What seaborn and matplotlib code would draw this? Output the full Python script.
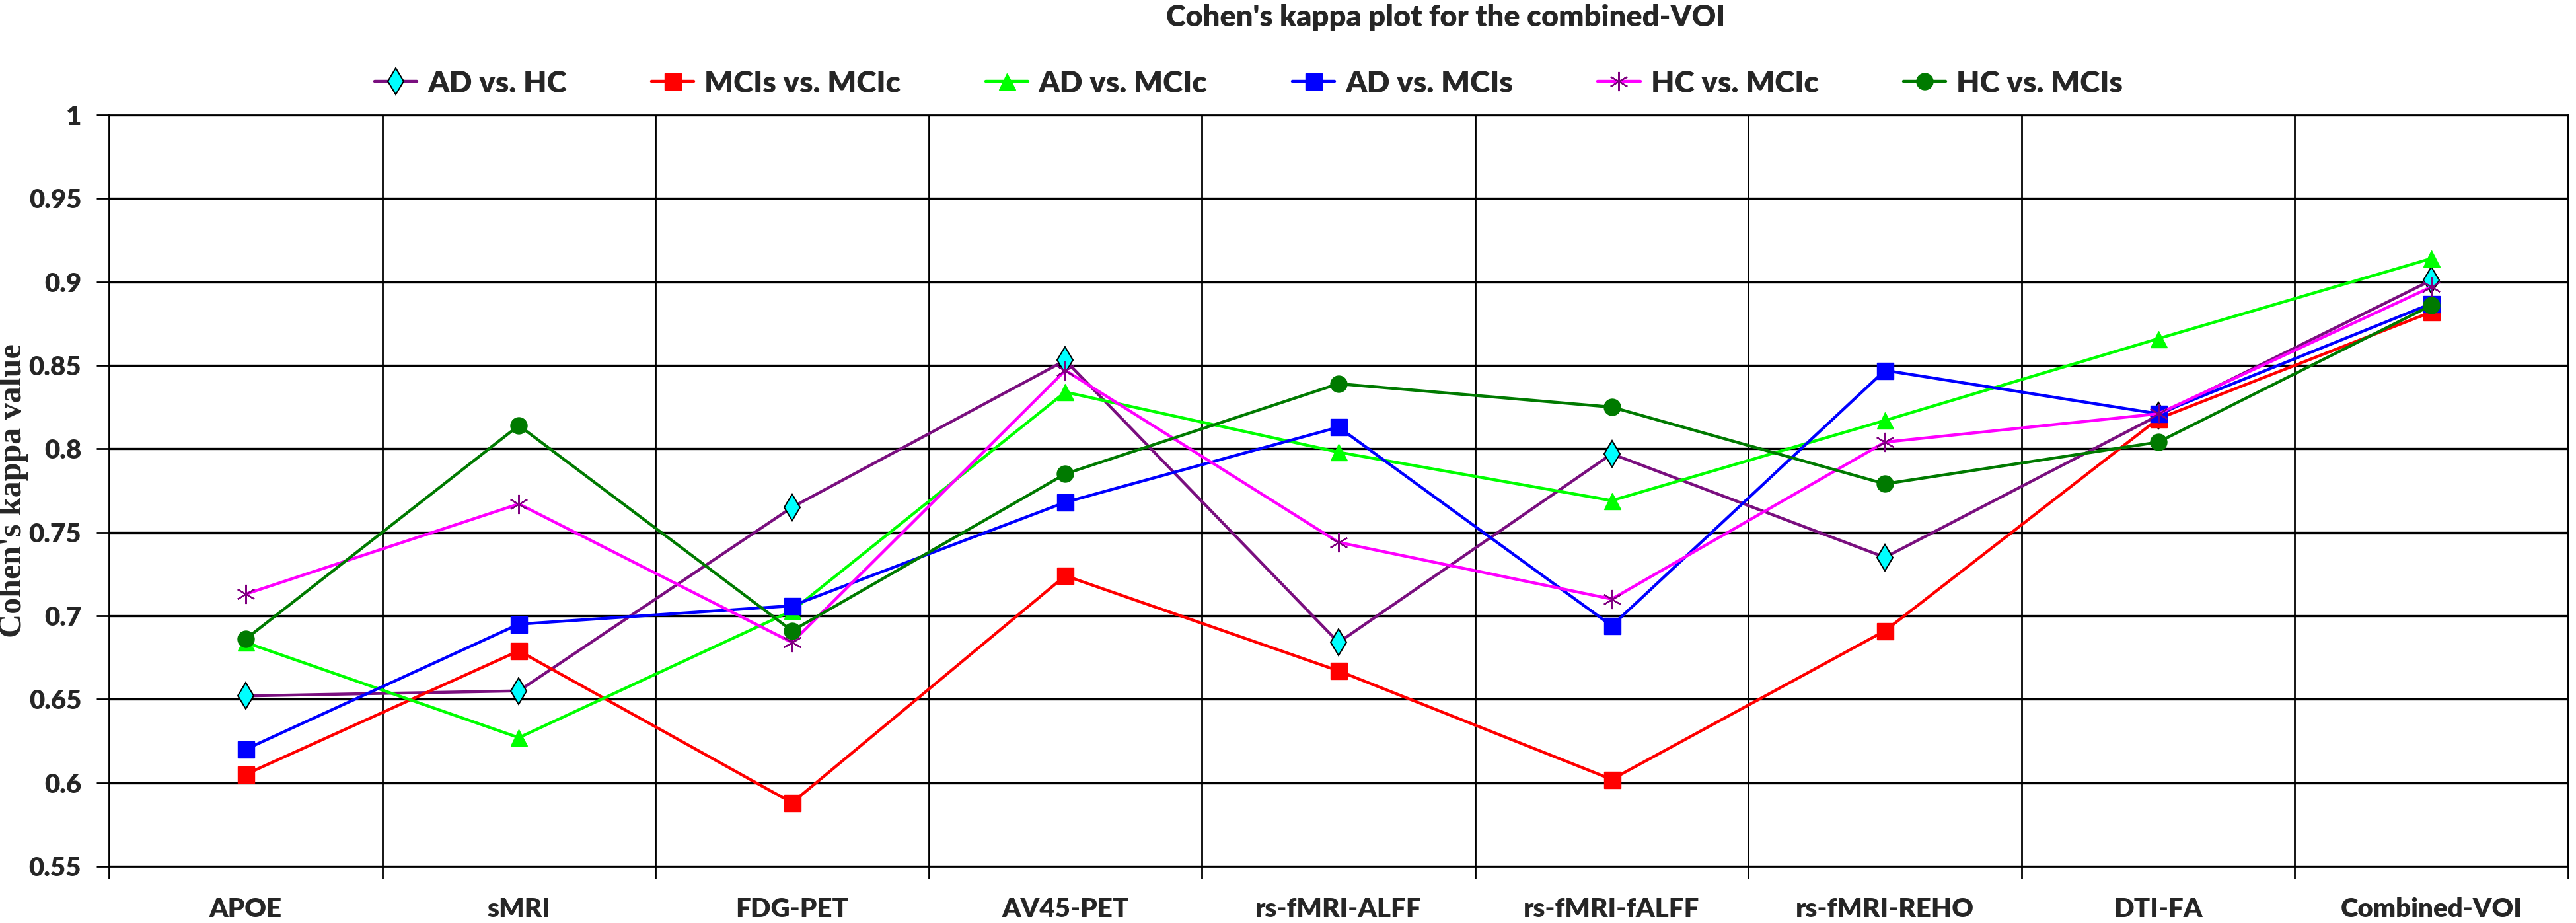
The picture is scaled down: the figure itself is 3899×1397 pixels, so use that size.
import matplotlib
matplotlib.use("Agg")
import matplotlib.pyplot as plt
from matplotlib.ticker import FixedLocator
import seaborn as sns
import numpy as np

# ---------------- data ----------------
categories = ["APOE", "sMRI", "FDG-PET", "AV45-PET", "rs-fMRI-ALFF",
              "rs-fMRI-fALFF", "rs-fMRI-REHO", "DTI-FA", "Combined-VOI"]

ad_vs_hc      = [0.652, 0.655, 0.765, 0.853, 0.684, 0.797, 0.735, 0.820, 0.901]
mcis_vs_mcic  = [0.605, 0.679, 0.588, 0.724, 0.667, 0.602, 0.691, 0.818, 0.882]
ad_vs_mcic    = [0.684, 0.627, 0.703, 0.834, 0.798, 0.769, 0.817, 0.866, 0.914]
ad_vs_mcis    = [0.620, 0.695, 0.706, 0.768, 0.813, 0.694, 0.847, 0.821, 0.887]
hc_vs_mcic    = [0.713, 0.767, 0.684, 0.847, 0.744, 0.710, 0.804, 0.821, 0.897]
hc_vs_mcis    = [0.686, 0.814, 0.691, 0.785, 0.839, 0.825, 0.779, 0.804, 0.886]

series_names = ["AD vs. HC", "MCIs vs. MCIc", "AD vs. MCIc",
                "AD vs. MCIs", "HC vs. MCIc", "HC vs. MCIs"]
series_values = [ad_vs_hc, mcis_vs_mcic, ad_vs_mcic, ad_vs_mcis, hc_vs_mcic, hc_vs_mcis]

y_ticks = [0.55, 0.6, 0.65, 0.7, 0.75, 0.8, 0.85, 0.9, 0.95, 1]
y_tick_labels = ["0.55", "0.6", "0.65", "0.7", "0.75", "0.8", "0.85", "0.9", "0.95", "1"]

title_text = "Cohen's kappa plot for the combined-VOI"
ylabel_text = "Cohen's kappa value"

# ---------------- styles ----------------
styles = [
    dict(color="#7A0F7F", marker="d", mfc="#00FFFF", mec="black", mew=1.5, ms=20),
    dict(color="#FF0000", marker="s", mfc="#FF0000", mec="#FF0000", mew=1.0, ms=18),
    dict(color="#00FF00", marker="^", mfc="#00FF00", mec="#00FF00", mew=1.0, ms=18),
    dict(color="#0000FF", marker="s", mfc="#0000FF", mec="#0000FF", mew=1.0, ms=18),
    dict(color="#FF00FF", marker=(6, 2, 0), mfc="#800080", mec="#800080", mew=1.6, ms=21),
    dict(color="#007A00", marker="o", mfc="#007A00", mec="#007A00", mew=1.0, ms=18),
]

WEIGHT = "heavy"

sns.set_theme(style="white")
plt.rcParams["font.family"] = ["Lato", "DejaVu Sans"]

W, H = 3899, 1397
fig = plt.figure(figsize=(W / 100, H / 100), dpi=100)
ax = fig.add_axes([165 / W, 1 - 1311 / H, (3887 - 165) / W, (1311 - 174) / H])

x_idx = list(range(len(categories)))
for name, vals, st in zip(series_names, series_values, styles):
    sns.lineplot(x=x_idx, y=vals, ax=ax, color=st["color"], linewidth=3.2,
                 marker=st["marker"], markersize=st["ms"],
                 markerfacecolor=st["mfc"], markeredgecolor=st["mec"],
                 markeredgewidth=st["mew"], label=name, zorder=3)

ax.set_xlim(-0.5, len(categories) - 0.5)
ax.set_ylim(0.55, 1.0)

# x: labels at centres, separators at boundaries
ax.set_xticks(x_idx)
ax.set_xticklabels(categories, fontsize=29, fontweight=WEIGHT)
ax.xaxis.set_minor_locator(FixedLocator(np.arange(-0.5, len(categories), 1.0)))
ax.tick_params(axis="x", which="major", length=0, pad=34)
ax.tick_params(axis="x", which="minor", length=14, width=2, color="black", bottom=True)
ax.grid(True, axis="x", which="minor", color="black", linewidth=2.0, zorder=1)
ax.grid(False, axis="x", which="major")

ax.set_yticks(y_ticks)
ax.set_yticklabels(y_tick_labels, fontsize=29, fontweight=WEIGHT)
ax.tick_params(axis="y", which="major", length=14, width=2, color="black", left=True, pad=16)
ax.grid(True, axis="y", which="major", color="black", linewidth=2.4, zorder=1)
ax.set_axisbelow(True)

for sp in ax.spines.values():
    sp.set_color("black")
    sp.set_linewidth(2.0)

ax.set_xlabel("")
ax.set_ylabel(ylabel_text, fontsize=36, fontweight="bold",
              family=["Liberation Serif", "DejaVu Serif"])
ax.yaxis.label.set_va("center")
ax.yaxis.set_label_coords(-(165 - 20) / (3887 - 165), 0.5)

fig.text(2188 / W, 1 - 40 / H, title_text, ha="center", va="baseline",
         fontsize=32.5, fontweight=WEIGHT)

handles, labels = ax.get_legend_handles_labels()
ax.legend(handles, labels, ncol=6, loc="center",
          bbox_to_anchor=(1890 / W, 1 - 126 / H), bbox_transform=fig.transFigure,
          frameon=False, prop=dict(size=33, weight=WEIGHT),
          handlelength=1.4, handletextpad=0.35, columnspacing=2.8)

fig.savefig("out.png", dpi=100)
